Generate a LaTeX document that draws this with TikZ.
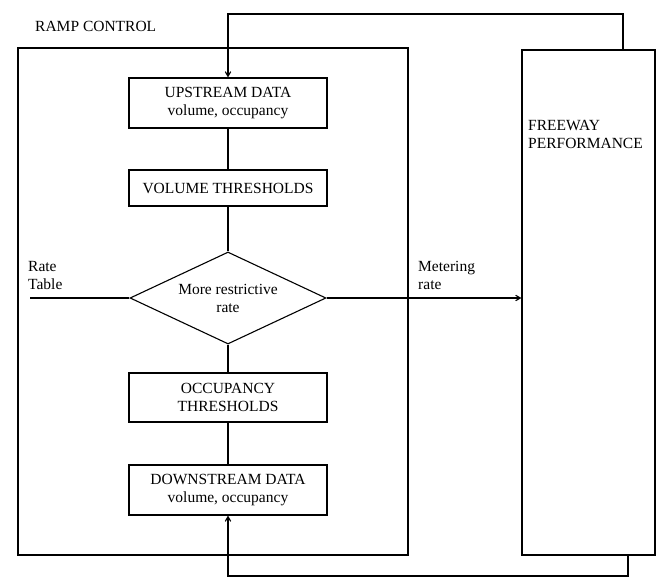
\documentclass[tikz,border=0pt]{standalone}
\usepackage{fontspec}
\setmainfont{Liberation Serif}
\usetikzlibrary{arrows, shapes, calc, positioning}

\tikzset{
  stage/.style={draw, line width=1.1pt, minimum width=198pt, align=center, inner sep=2pt},
  frame/.style={draw, line width=1.1pt},
  flow/.style={line width=1.1pt},
  txt/.style={align=left, inner sep=0pt}
}

\begin{document}
\begin{tikzpicture}[x=1pt, y=-1pt, font=\fontsize{15.5}{18}\selectfont, >=angle 60]
        \useasboundingbox (0,0) rectangle (660,580);

        % the two outer blocks
        \node[frame, minimum width=390pt, minimum height=507pt] (ramp) at (213,301.5) {};
        \node[frame, minimum width=133pt, minimum height=505pt] (free) at (588.5,302.5) {};
        \node[txt, anchor=base west] (ramptxt) at (35,32) {RAMP CONTROL};
        \node[txt, anchor=north west] (freetxt) at (528,120) {FREEWAY\\PERFORMANCE};

        % ramp control logic
        \node[stage, minimum height=50pt] (up) at (228,103) {UPSTREAM DATA\\volume, occupancy};
        \node[stage, minimum height=36pt] (vol) at (228,188) {VOLUME THRESHOLDS};
        \node[draw, diamond, line width=1.1pt, aspect=2.1, inner sep=0pt, minimum width=196pt, minimum height=92pt, align=center] (dia) at (228,298) {More restrictive\\rate};
        \node[stage, minimum height=49pt] (occ) at (228,397.5) {OCCUPANCY\\THRESHOLDS};
        \node[stage, minimum height=50pt] (down) at (228,490) {DOWNSTREAM DATA\\volume, occupancy};

        \draw[flow] (up.south) -- (vol.north);
        \draw[flow] (vol.south) -- (dia.north);
        \draw[flow] (dia.south) -- (occ.north);
        \draw[flow] (occ.south) -- (down.north);

        % inputs and output
        \coordinate (rt) at (30,298);
        \draw[flow] (rt) -- (dia.west);
        \node[txt, anchor=south west] (rttxt) at (28,290) {Rate\\Table};
        \draw[flow, ->] (dia.east) -- (dia.east -| free.west);
        \node[txt, anchor=south west] (mrtxt) at (418,290) {Metering\\rate};

        % feedback loops
        \coordinate (fbtop) at (623,14);
        \coordinate (fbbot) at (628,576);
        \draw[flow, ->] (fbtop |- free.north) -- (fbtop) -| (up.north);
        \draw[flow, ->] (fbbot |- free.south) -- (fbbot) -| (down.south);
    \end{tikzpicture}
\end{document}
